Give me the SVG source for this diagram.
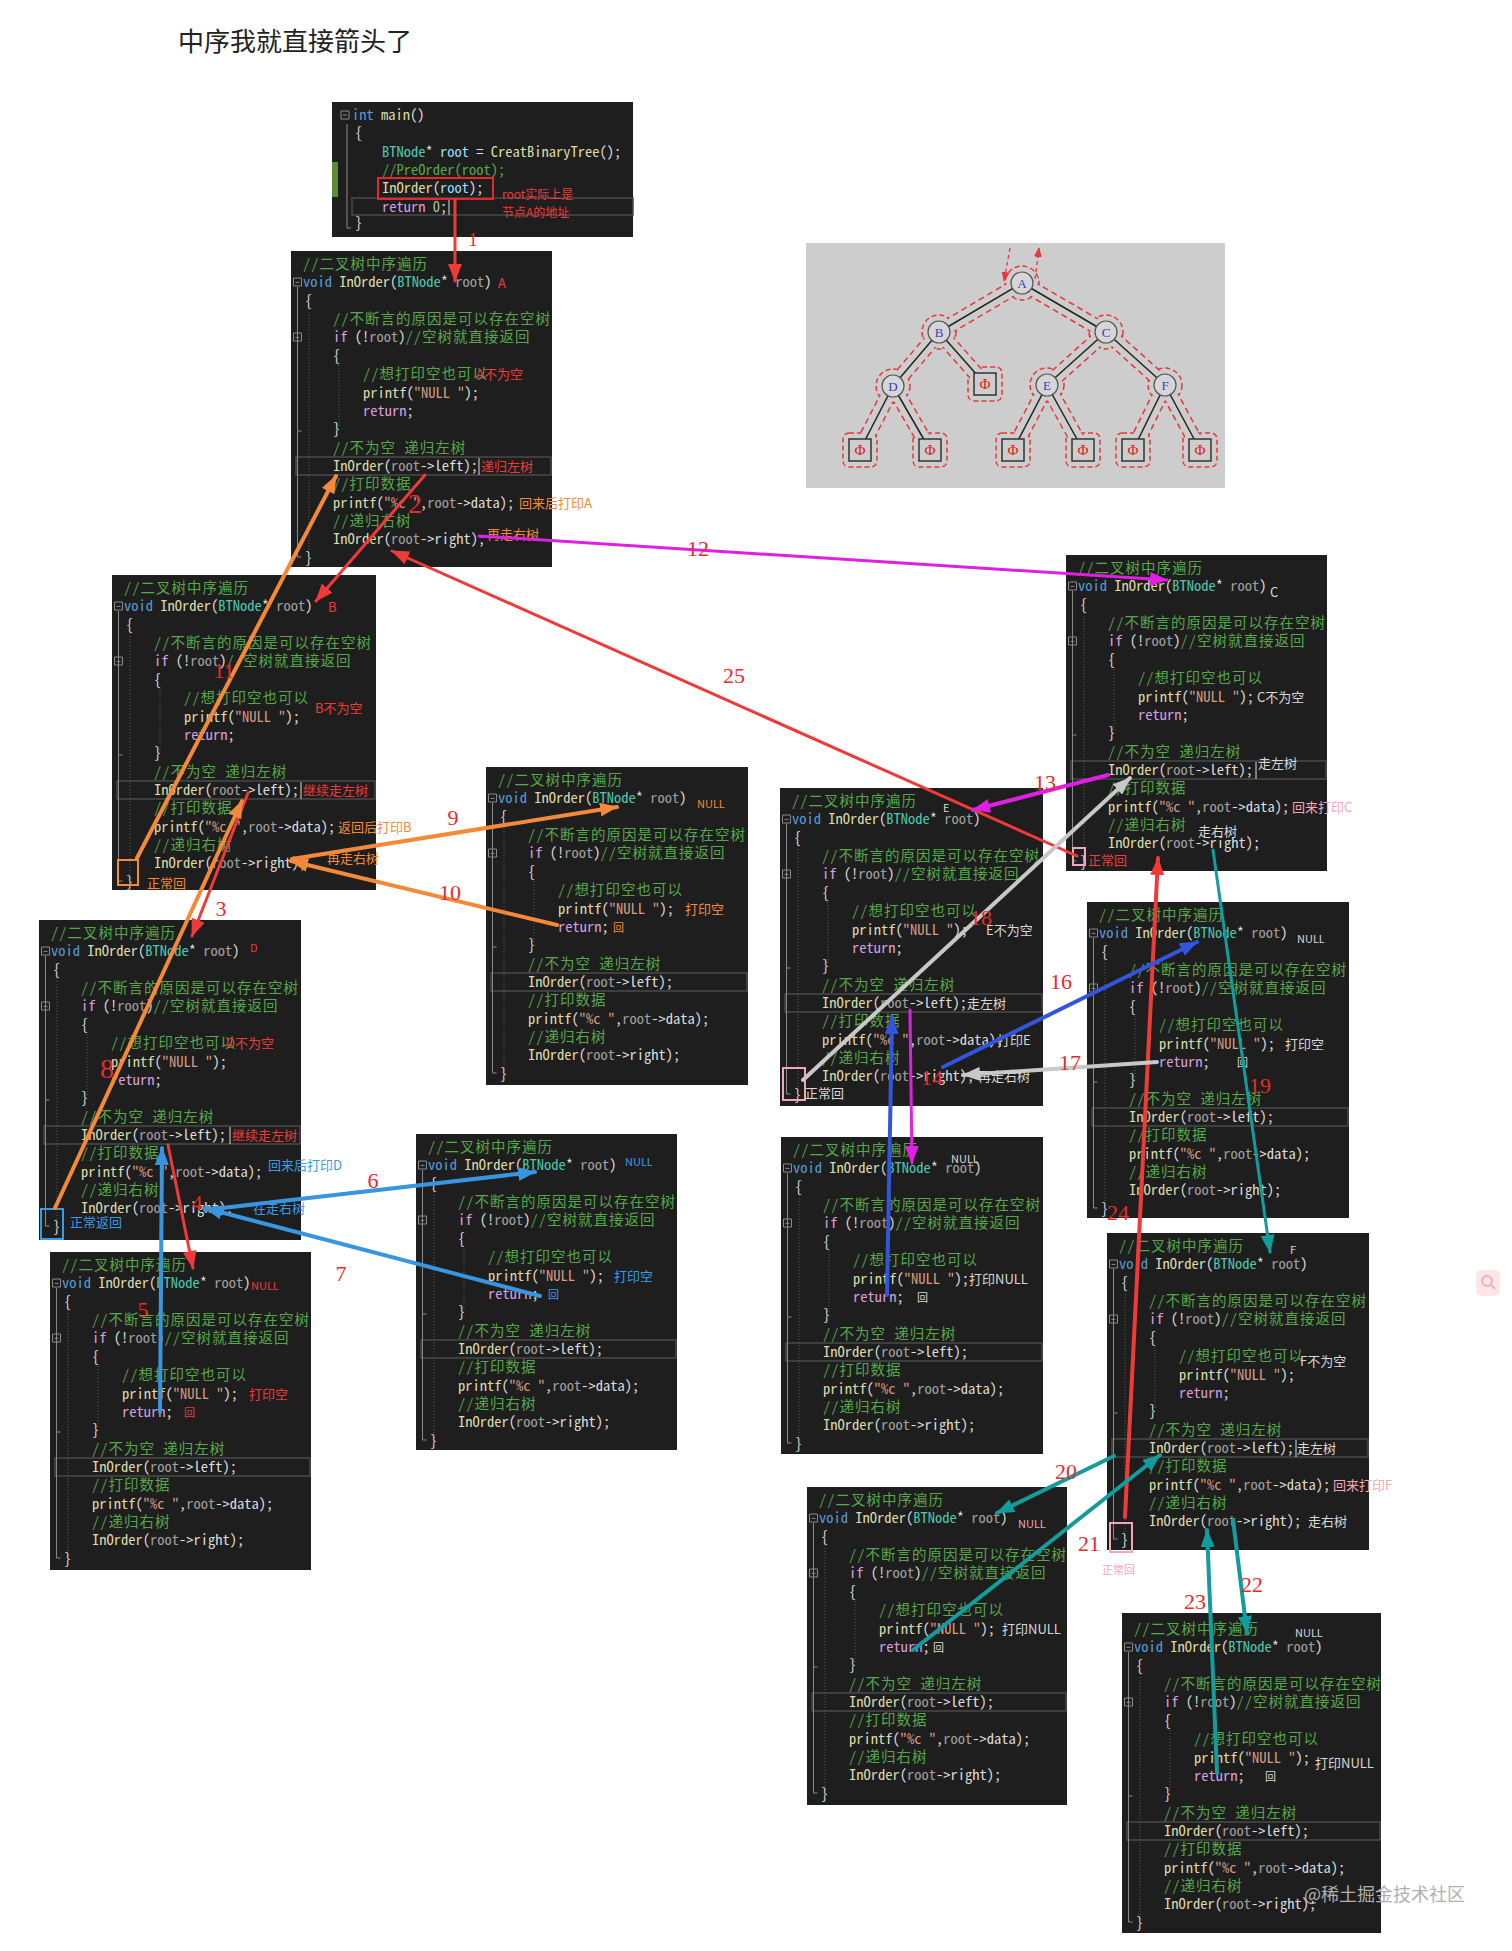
<svg xmlns="http://www.w3.org/2000/svg" width="1512" height="1951" viewBox="0 0 1512 1951">
<style>
.box text{font-family:"Noto Sans Mono CJK SC","Liberation Mono","Noto Sans CJK SC",monospace;font-size:14.5px;fill:#dcdcdc}
.box .c{fill:#57a64a;letter-spacing:1px}
.box .c0{fill:#57a64a}
.box .k{fill:#569cd6}
.box .m{fill:#d8a0df}
.box .f{fill:#dcdcaa}
.box .t{fill:#4ec9b0}
.box .p{fill:#a0a0a0}
.box .s{fill:#d69d85}
.box .v{fill:#9cdcfe}
.box .n{fill:#b5cea8}
.bg{fill:#1e1e1e}
.hl{fill:none;stroke:#4a4a4a;stroke-width:1.5}
.fd{fill:none;stroke:#8a8a8a;stroke-width:1}
.gd{fill:none;stroke:#5c5c5c;stroke-width:1;stroke-dasharray:1 2}
.box text.an{font-family:"Noto Sans CJK SC","Liberation Sans",sans-serif;font-size:13px;letter-spacing:0}
.box text.sm{font-size:11px}
text.num{font-family:"Liberation Serif",serif;font-size:22px;fill:#e52b2b;text-anchor:middle}
.box .rd{fill:#f03a3a}
.box .or{fill:#f5893a}
.box .bl{fill:#3a9ae6}
.box .lt{fill:#d8d8d8}
.box .pk{fill:#f2a6b8}
.title{font-family:"Noto Sans CJK SC",sans-serif;font-size:26px;fill:#222}
.tn{font-family:"Liberation Serif",serif;font-size:13px;fill:#3a3acc;text-anchor:middle}
.phi{font-family:"Liberation Serif",serif;font-size:15px;fill:#e02020;text-anchor:middle}
</style>
<defs>
<marker id="mr" viewBox="0 0 18 14" refX="17" refY="7" markerWidth="18" markerHeight="14" markerUnits="userSpaceOnUse" orient="auto"><path d="M0,0L18,7L0,14z" fill="#f03a3a"/></marker>
<marker id="mo" viewBox="0 0 18 14" refX="17" refY="7" markerWidth="18" markerHeight="14" markerUnits="userSpaceOnUse" orient="auto"><path d="M0,0L18,7L0,14z" fill="#f5893a"/></marker>
<marker id="mb" viewBox="0 0 18 14" refX="17" refY="7" markerWidth="18" markerHeight="14" markerUnits="userSpaceOnUse" orient="auto"><path d="M0,0L18,7L0,14z" fill="#3a95e0"/></marker>
<marker id="md" viewBox="0 0 18 14" refX="17" refY="7" markerWidth="18" markerHeight="14" markerUnits="userSpaceOnUse" orient="auto"><path d="M0,0L18,7L0,14z" fill="#3355dd"/></marker>
<marker id="mm" viewBox="0 0 18 14" refX="17" refY="7" markerWidth="18" markerHeight="14" markerUnits="userSpaceOnUse" orient="auto"><path d="M0,0L18,7L0,14z" fill="#e020e0"/></marker>
<marker id="mg" viewBox="0 0 18 14" refX="17" refY="7" markerWidth="18" markerHeight="14" markerUnits="userSpaceOnUse" orient="auto"><path d="M0,0L18,7L0,14z" fill="#c8c8c8"/></marker>
<marker id="mt" viewBox="0 0 18 14" refX="17" refY="7" markerWidth="18" markerHeight="14" markerUnits="userSpaceOnUse" orient="auto"><path d="M0,0L18,7L0,14z" fill="#129c9c"/></marker>
<marker id="ms" viewBox="0 0 10 8" refX="9" refY="4" markerWidth="10" markerHeight="8" markerUnits="userSpaceOnUse" orient="auto"><path d="M0,0L10,4L0,8z" fill="#e8383d"/></marker>
</defs>
<rect width="1512" height="1951" fill="#ffffff"/>
<text class="title" x="178" y="51">中序我就直接箭头了</text>

<g id="main" class="box" transform="translate(332,102)">
<rect class="bg" width="301" height="135"/>
<rect x="0" y="60" width="6" height="35" fill="#5f8a36"/>
<rect class="hl" x="20" y="96" width="281" height="17"/>
<path class="fd" d="M9,9h8v8h-8zM11,13h4M15,22V126h4"/>
<text x="20" y="18"><tspan class="k">int</tspan> <tspan class="f">main</tspan>()</text>
<text x="23" y="36">{</text>
<text x="50" y="55"><tspan class="t">BTNode</tspan>* <tspan class="v">root</tspan> = <tspan class="f">CreatBinaryTree</tspan>();</text>
<text x="50" y="73" class="c0">//PreOrder(root);</text>
<text x="50" y="91"><tspan class="f">InOrder</tspan>(<tspan class="v">root</tspan>);</text>
<rect x="46" y="76" width="115" height="21" fill="none" stroke="#e8262a" stroke-width="2"/>
<text x="50" y="110"><tspan class="m">return</tspan> <tspan class="n">0</tspan>;</text>
<path d="M117,98V113" stroke="#dddddd" stroke-width="1"/>
<text x="23" y="126">}</text>
<text class="an rd" x="170" y="97" style="font-size:12px">root实际上是</text>
<text class="an rd" x="170" y="115" style="font-size:12px">节点A的地址</text>
</g>

<g id="inorder-A" class="box" transform="translate(291,251)">
<rect class="bg" width="261" height="316"/>
<rect class="hl" x="5" y="206" width="255" height="18"/>
<path class="fd" d="M2.5,27h8v8h-8zM4.5,31.4h4M2.5,82h8v8h-8zM4.5,86.4h4M6.5,36V306h4M6.5,91V180h4"/>
<path class="gd" d="M18,58V300M48,114V176"/>
<text x="12" y="18" class="c">//二叉树中序遍历</text>
<text x="12" y="36.4"><tspan class="k">void</tspan> <tspan class="f">InOrder</tspan>(<tspan class="t">BTNode</tspan>* <tspan class="p">root</tspan>)</text>
<text x="14" y="54.7">{</text>
<text x="42" y="73.1" class="c">//不断言的原因是可以存在空树</text>
<text x="42" y="91.4"><tspan class="m">if</tspan> (!<tspan class="p">root</tspan>)<tspan class="c">//空树就直接返回</tspan></text>
<text x="42" y="109.8">{</text>
<text x="72" y="128.1" class="c">//想打印空也可以</text>
<text x="72" y="146.5"><tspan class="f">printf</tspan>(<tspan class="s">"NULL "</tspan>);</text>
<text x="72" y="164.8"><tspan class="m">return</tspan>;</text>
<text x="42" y="183.2">}</text>
<text x="42" y="201.5" class="c">//不为空 递归左树</text>
<text x="42" y="219.9"><tspan class="f">InOrder</tspan>(<tspan class="p">root</tspan>-&gt;left);</text>
<text x="42" y="238.2" class="c">//打印数据</text>
<text x="42" y="256.6"><tspan class="f">printf</tspan>(<tspan class="s">"%c "</tspan>,<tspan class="p">root</tspan>-&gt;data);</text>
<text x="42" y="274.9" class="c">//递归右树</text>
<text x="42" y="293.3"><tspan class="f">InOrder</tspan>(<tspan class="p">root</tspan>-&gt;right);</text>
<text x="14" y="311.6">}</text>
<text class="an rd" x="207" y="37">A</text>
<text class="an rd" x="185" y="128">A不为空</text>
<path d="M188,207V224" stroke="#dddddd"/>
<text class="an rd" x="190" y="220">递归左树</text>
<text class="an or" x="228" y="257">回来后打印A</text>
<text class="an or" x="196" y="288">再走右树</text>
</g>

<g id="inorder-B" class="box" transform="translate(112,575)">
<rect class="bg" width="264" height="315"/>
<rect class="hl" x="5" y="206" width="258" height="18"/>
<path class="fd" d="M2.5,27h8v8h-8zM4.5,31.4h4M2.5,82h8v8h-8zM4.5,86.4h4M6.5,36V306h4M6.5,91V180h4"/>
<path class="gd" d="M18,58V300M48,114V176"/>
<text x="12" y="18" class="c">//二叉树中序遍历</text>
<text x="12" y="36.4"><tspan class="k">void</tspan> <tspan class="f">InOrder</tspan>(<tspan class="t">BTNode</tspan>* <tspan class="p">root</tspan>)</text>
<text x="14" y="54.7">{</text>
<text x="42" y="73.1" class="c">//不断言的原因是可以存在空树</text>
<text x="42" y="91.4"><tspan class="m">if</tspan> (!<tspan class="p">root</tspan>)<tspan class="c">//空树就直接返回</tspan></text>
<text x="42" y="109.8">{</text>
<text x="72" y="128.1" class="c">//想打印空也可以</text>
<text x="72" y="146.5"><tspan class="f">printf</tspan>(<tspan class="s">"NULL "</tspan>);</text>
<text x="72" y="164.8"><tspan class="m">return</tspan>;</text>
<text x="42" y="183.2">}</text>
<text x="42" y="201.5" class="c">//不为空 递归左树</text>
<text x="42" y="219.9"><tspan class="f">InOrder</tspan>(<tspan class="p">root</tspan>-&gt;left);</text>
<text x="42" y="238.2" class="c">//打印数据</text>
<text x="42" y="256.6"><tspan class="f">printf</tspan>(<tspan class="s">"%c "</tspan>,<tspan class="p">root</tspan>-&gt;data);</text>
<text x="42" y="274.9" class="c">//递归右树</text>
<text x="42" y="293.3"><tspan class="f">InOrder</tspan>(<tspan class="p">root</tspan>-&gt;right);</text>
<text x="14" y="311.6">}</text>
<text class="an rd" x="216" y="37">B</text>
<text class="an rd" x="203" y="138">B不为空</text>
<path d="M189,207V224" stroke="#dddddd"/>
<text class="an rd" x="191" y="220">继续走左树</text>
<text class="an or" x="226" y="257">返回后打印B</text>
<text class="an or" x="215" y="288">再走右树</text>
<rect x="6" y="285" width="20" height="25" fill="none" stroke="#f5893a" stroke-width="2"/>
<text class="an or" x="35" y="313">正常回</text>
</g>

<g id="inorder-D" class="box" transform="translate(39,920)">
<rect class="bg" width="262" height="320"/>
<rect class="hl" x="5" y="206" width="256" height="18"/>
<path class="fd" d="M2.5,27h8v8h-8zM4.5,31.4h4M2.5,82h8v8h-8zM4.5,86.4h4M6.5,36V306h4M6.5,91V180h4"/>
<path class="gd" d="M18,58V300M48,114V176"/>
<text x="12" y="18" class="c">//二叉树中序遍历</text>
<text x="12" y="36.4"><tspan class="k">void</tspan> <tspan class="f">InOrder</tspan>(<tspan class="t">BTNode</tspan>* <tspan class="p">root</tspan>)</text>
<text x="14" y="54.7">{</text>
<text x="42" y="73.1" class="c">//不断言的原因是可以存在空树</text>
<text x="42" y="91.4"><tspan class="m">if</tspan> (!<tspan class="p">root</tspan>)<tspan class="c">//空树就直接返回</tspan></text>
<text x="42" y="109.8">{</text>
<text x="72" y="128.1" class="c">//想打印空也可以</text>
<text x="72" y="146.5"><tspan class="f">printf</tspan>(<tspan class="s">"NULL "</tspan>);</text>
<text x="72" y="164.8"><tspan class="m">return</tspan>;</text>
<text x="42" y="183.2">}</text>
<text x="42" y="201.5" class="c">//不为空 递归左树</text>
<text x="42" y="219.9"><tspan class="f">InOrder</tspan>(<tspan class="p">root</tspan>-&gt;left);</text>
<text x="42" y="238.2" class="c">//打印数据</text>
<text x="42" y="256.6"><tspan class="f">printf</tspan>(<tspan class="s">"%c "</tspan>,<tspan class="p">root</tspan>-&gt;data);</text>
<text x="42" y="274.9" class="c">//递归右树</text>
<text x="42" y="293.3"><tspan class="f">InOrder</tspan>(<tspan class="p">root</tspan>-&gt;right);</text>
<text x="14" y="311.6">}</text>
<text class="an rd sm" x="211" y="32">D</text>
<text class="an rd" x="187" y="128">D不为空</text>
<path d="M191,207V224" stroke="#dddddd"/>
<text class="an rd" x="193" y="220">继续走左树</text>
<text class="an bl" x="229" y="250">回来后打印D</text>
<text class="an bl" x="214" y="293">在走右树</text>
<rect x="2" y="289" width="22" height="30" fill="none" stroke="#3a9ae6" stroke-width="2"/>
<text class="an bl" x="31" y="307">正常返回</text>
</g>

<g id="inorder-null-DL" class="box" transform="translate(50,1252)">
<rect class="bg" width="261" height="318"/>
<rect class="hl" x="5" y="206" width="255" height="18"/>
<path class="fd" d="M2.5,27h8v8h-8zM4.5,31.4h4M2.5,82h8v8h-8zM4.5,86.4h4M6.5,36V306h4M6.5,91V180h4"/>
<path class="gd" d="M18,58V300M48,114V176"/>
<text x="12" y="18" class="c">//二叉树中序遍历</text>
<text x="12" y="36.4"><tspan class="k">void</tspan> <tspan class="f">InOrder</tspan>(<tspan class="t">BTNode</tspan>* <tspan class="p">root</tspan>)</text>
<text x="14" y="54.7">{</text>
<text x="42" y="73.1" class="c">//不断言的原因是可以存在空树</text>
<text x="42" y="91.4"><tspan class="m">if</tspan> (!<tspan class="p">root</tspan>)<tspan class="c">//空树就直接返回</tspan></text>
<text x="42" y="109.8">{</text>
<text x="72" y="128.1" class="c">//想打印空也可以</text>
<text x="72" y="146.5"><tspan class="f">printf</tspan>(<tspan class="s">"NULL "</tspan>);</text>
<text x="72" y="164.8"><tspan class="m">return</tspan>;</text>
<text x="42" y="183.2">}</text>
<text x="42" y="201.5" class="c">//不为空 递归左树</text>
<text x="42" y="219.9"><tspan class="f">InOrder</tspan>(<tspan class="p">root</tspan>-&gt;left);</text>
<text x="42" y="238.2" class="c">//打印数据</text>
<text x="42" y="256.6"><tspan class="f">printf</tspan>(<tspan class="s">"%c "</tspan>,<tspan class="p">root</tspan>-&gt;data);</text>
<text x="42" y="274.9" class="c">//递归右树</text>
<text x="42" y="293.3"><tspan class="f">InOrder</tspan>(<tspan class="p">root</tspan>-&gt;right);</text>
<text x="14" y="311.6">}</text>
<text class="an rd sm" x="201" y="38">NULL</text>
<text class="an rd" x="199" y="147">打印空</text>
<text class="an rd sm" x="134" y="165">回</text>
</g>

<g id="inorder-null-BR" class="box" transform="translate(486,767)">
<rect class="bg" width="262" height="318"/>
<rect class="hl" x="5" y="206" width="256" height="18"/>
<path class="fd" d="M2.5,27h8v8h-8zM4.5,31.4h4M2.5,82h8v8h-8zM4.5,86.4h4M6.5,36V306h4M6.5,91V180h4"/>
<path class="gd" d="M18,58V300M48,114V176"/>
<text x="12" y="18" class="c">//二叉树中序遍历</text>
<text x="12" y="36.4"><tspan class="k">void</tspan> <tspan class="f">InOrder</tspan>(<tspan class="t">BTNode</tspan>* <tspan class="p">root</tspan>)</text>
<text x="14" y="54.7">{</text>
<text x="42" y="73.1" class="c">//不断言的原因是可以存在空树</text>
<text x="42" y="91.4"><tspan class="m">if</tspan> (!<tspan class="p">root</tspan>)<tspan class="c">//空树就直接返回</tspan></text>
<text x="42" y="109.8">{</text>
<text x="72" y="128.1" class="c">//想打印空也可以</text>
<text x="72" y="146.5"><tspan class="f">printf</tspan>(<tspan class="s">"NULL "</tspan>);</text>
<text x="72" y="164.8"><tspan class="m">return</tspan>;</text>
<text x="42" y="183.2">}</text>
<text x="42" y="201.5" class="c">//不为空 递归左树</text>
<text x="42" y="219.9"><tspan class="f">InOrder</tspan>(<tspan class="p">root</tspan>-&gt;left);</text>
<text x="42" y="238.2" class="c">//打印数据</text>
<text x="42" y="256.6"><tspan class="f">printf</tspan>(<tspan class="s">"%c "</tspan>,<tspan class="p">root</tspan>-&gt;data);</text>
<text x="42" y="274.9" class="c">//递归右树</text>
<text x="42" y="293.3"><tspan class="f">InOrder</tspan>(<tspan class="p">root</tspan>-&gt;right);</text>
<text x="14" y="311.6">}</text>
<text class="an or sm" x="211" y="41">NULL</text>
<text class="an or" x="199" y="147">打印空</text>
<text class="an or sm" x="127" y="165">回</text>
</g>

<g id="inorder-null-DR" class="box" transform="translate(416,1134)">
<rect class="bg" width="261" height="316"/>
<rect class="hl" x="5" y="206" width="255" height="18"/>
<path class="fd" d="M2.5,27h8v8h-8zM4.5,31.4h4M2.5,82h8v8h-8zM4.5,86.4h4M6.5,36V306h4M6.5,91V180h4"/>
<path class="gd" d="M18,58V300M48,114V176"/>
<text x="12" y="18" class="c">//二叉树中序遍历</text>
<text x="12" y="36.4"><tspan class="k">void</tspan> <tspan class="f">InOrder</tspan>(<tspan class="t">BTNode</tspan>* <tspan class="p">root</tspan>)</text>
<text x="14" y="54.7">{</text>
<text x="42" y="73.1" class="c">//不断言的原因是可以存在空树</text>
<text x="42" y="91.4"><tspan class="m">if</tspan> (!<tspan class="p">root</tspan>)<tspan class="c">//空树就直接返回</tspan></text>
<text x="42" y="109.8">{</text>
<text x="72" y="128.1" class="c">//想打印空也可以</text>
<text x="72" y="146.5"><tspan class="f">printf</tspan>(<tspan class="s">"NULL "</tspan>);</text>
<text x="72" y="164.8"><tspan class="m">return</tspan>;</text>
<text x="42" y="183.2">}</text>
<text x="42" y="201.5" class="c">//不为空 递归左树</text>
<text x="42" y="219.9"><tspan class="f">InOrder</tspan>(<tspan class="p">root</tspan>-&gt;left);</text>
<text x="42" y="238.2" class="c">//打印数据</text>
<text x="42" y="256.6"><tspan class="f">printf</tspan>(<tspan class="s">"%c "</tspan>,<tspan class="p">root</tspan>-&gt;data);</text>
<text x="42" y="274.9" class="c">//递归右树</text>
<text x="42" y="293.3"><tspan class="f">InOrder</tspan>(<tspan class="p">root</tspan>-&gt;right);</text>
<text x="14" y="311.6">}</text>
<text class="an bl sm" x="209" y="32">NULL</text>
<text class="an bl" x="198" y="147">打印空</text>
<text class="an bl sm" x="132" y="165">回</text>
</g>

<g id="inorder-E" class="box" transform="translate(780,788)">
<rect class="bg" width="263" height="318"/>
<rect class="hl" x="5" y="206" width="257" height="18"/>
<path class="fd" d="M2.5,27h8v8h-8zM4.5,31.4h4M2.5,82h8v8h-8zM4.5,86.4h4M6.5,36V306h4M6.5,91V180h4"/>
<path class="gd" d="M18,58V300M48,114V176"/>
<text x="12" y="18" class="c">//二叉树中序遍历</text>
<text x="12" y="36.4"><tspan class="k">void</tspan> <tspan class="f">InOrder</tspan>(<tspan class="t">BTNode</tspan>* <tspan class="p">root</tspan>)</text>
<text x="14" y="54.7">{</text>
<text x="42" y="73.1" class="c">//不断言的原因是可以存在空树</text>
<text x="42" y="91.4"><tspan class="m">if</tspan> (!<tspan class="p">root</tspan>)<tspan class="c">//空树就直接返回</tspan></text>
<text x="42" y="109.8">{</text>
<text x="72" y="128.1" class="c">//想打印空也可以</text>
<text x="72" y="146.5"><tspan class="f">printf</tspan>(<tspan class="s">"NULL "</tspan>);</text>
<text x="72" y="164.8"><tspan class="m">return</tspan>;</text>
<text x="42" y="183.2">}</text>
<text x="42" y="201.5" class="c">//不为空 递归左树</text>
<text x="42" y="219.9"><tspan class="f">InOrder</tspan>(<tspan class="p">root</tspan>-&gt;left);</text>
<text x="42" y="238.2" class="c">//打印数据</text>
<text x="42" y="256.6"><tspan class="f">printf</tspan>(<tspan class="s">"%c "</tspan>,<tspan class="p">root</tspan>-&gt;data);</text>
<text x="42" y="274.9" class="c">//递归右树</text>
<text x="42" y="293.3"><tspan class="f">InOrder</tspan>(<tspan class="p">root</tspan>-&gt;right);</text>
<text x="14" y="311.6">}</text>
<text class="an lt sm" x="163" y="24">E</text>
<text class="an lt" x="206" y="147">E不为空</text>
<text class="an lt" x="187" y="220">走左树</text>
<text class="an lt" x="217" y="257">打印E</text>
<text class="an lt" x="198" y="293">再走右树</text>
<rect x="3" y="280" width="22" height="32" fill="none" stroke="#f2a6b8" stroke-width="2"/>
<text class="an lt" x="25" y="310">正常回</text>
</g>

<g id="inorder-C" class="box" transform="translate(1066,555)">
<rect class="bg" width="261" height="316"/>
<rect class="hl" x="5" y="206" width="255" height="18"/>
<path class="fd" d="M2.5,27h8v8h-8zM4.5,31.4h4M2.5,82h8v8h-8zM4.5,86.4h4M6.5,36V306h4M6.5,91V180h4"/>
<path class="gd" d="M18,58V300M48,114V176"/>
<text x="12" y="18" class="c">//二叉树中序遍历</text>
<text x="12" y="36.4"><tspan class="k">void</tspan> <tspan class="f">InOrder</tspan>(<tspan class="t">BTNode</tspan>* <tspan class="p">root</tspan>)</text>
<text x="14" y="54.7">{</text>
<text x="42" y="73.1" class="c">//不断言的原因是可以存在空树</text>
<text x="42" y="91.4"><tspan class="m">if</tspan> (!<tspan class="p">root</tspan>)<tspan class="c">//空树就直接返回</tspan></text>
<text x="42" y="109.8">{</text>
<text x="72" y="128.1" class="c">//想打印空也可以</text>
<text x="72" y="146.5"><tspan class="f">printf</tspan>(<tspan class="s">"NULL "</tspan>);</text>
<text x="72" y="164.8"><tspan class="m">return</tspan>;</text>
<text x="42" y="183.2">}</text>
<text x="42" y="201.5" class="c">//不为空 递归左树</text>
<text x="42" y="219.9"><tspan class="f">InOrder</tspan>(<tspan class="p">root</tspan>-&gt;left);</text>
<text x="42" y="238.2" class="c">//打印数据</text>
<text x="42" y="256.6"><tspan class="f">printf</tspan>(<tspan class="s">"%c "</tspan>,<tspan class="p">root</tspan>-&gt;data);</text>
<text x="42" y="274.9" class="c">//递归右树</text>
<text x="42" y="293.3"><tspan class="f">InOrder</tspan>(<tspan class="p">root</tspan>-&gt;right);</text>
<text x="14" y="311.6">}</text>
<text class="an lt" x="204" y="42">C</text>
<text class="an lt" x="191" y="147">C不为空</text>
<path d="M190,207V224" stroke="#dddddd"/>
<text class="an lt" x="192" y="213">走左树</text>
<text class="an pk" x="226" y="257">回来打印C</text>
<text class="an lt" x="132" y="281">走右树</text>
<rect x="7" y="293" width="12" height="17" fill="none" stroke="#f2a6b8" stroke-width="2"/>
<text class="an rd" x="22" y="310">正常回</text>
</g>

<g id="inorder-null-EL" class="box" transform="translate(781,1137)">
<rect class="bg" width="262" height="317"/>
<rect class="hl" x="5" y="206" width="256" height="18"/>
<path class="fd" d="M2.5,27h8v8h-8zM4.5,31.4h4M2.5,82h8v8h-8zM4.5,86.4h4M6.5,36V306h4M6.5,91V180h4"/>
<path class="gd" d="M18,58V300M48,114V176"/>
<text x="12" y="18" class="c">//二叉树中序遍历</text>
<text x="12" y="36.4"><tspan class="k">void</tspan> <tspan class="f">InOrder</tspan>(<tspan class="t">BTNode</tspan>* <tspan class="p">root</tspan>)</text>
<text x="14" y="54.7">{</text>
<text x="42" y="73.1" class="c">//不断言的原因是可以存在空树</text>
<text x="42" y="91.4"><tspan class="m">if</tspan> (!<tspan class="p">root</tspan>)<tspan class="c">//空树就直接返回</tspan></text>
<text x="42" y="109.8">{</text>
<text x="72" y="128.1" class="c">//想打印空也可以</text>
<text x="72" y="146.5"><tspan class="f">printf</tspan>(<tspan class="s">"NULL "</tspan>);</text>
<text x="72" y="164.8"><tspan class="m">return</tspan>;</text>
<text x="42" y="183.2">}</text>
<text x="42" y="201.5" class="c">//不为空 递归左树</text>
<text x="42" y="219.9"><tspan class="f">InOrder</tspan>(<tspan class="p">root</tspan>-&gt;left);</text>
<text x="42" y="238.2" class="c">//打印数据</text>
<text x="42" y="256.6"><tspan class="f">printf</tspan>(<tspan class="s">"%c "</tspan>,<tspan class="p">root</tspan>-&gt;data);</text>
<text x="42" y="274.9" class="c">//递归右树</text>
<text x="42" y="293.3"><tspan class="f">InOrder</tspan>(<tspan class="p">root</tspan>-&gt;right);</text>
<text x="14" y="311.6">}</text>
<text class="an lt sm" x="170" y="26">NULL</text>
<text class="an lt" x="188" y="147">打印NULL</text>
<text class="an lt sm" x="136" y="165">回</text>
</g>

<g id="inorder-null-ER" class="box" transform="translate(1087,902)">
<rect class="bg" width="262" height="316"/>
<rect class="hl" x="5" y="206" width="256" height="18"/>
<path class="fd" d="M2.5,27h8v8h-8zM4.5,31.4h4M2.5,82h8v8h-8zM4.5,86.4h4M6.5,36V306h4M6.5,91V180h4"/>
<path class="gd" d="M18,58V300M48,114V176"/>
<text x="12" y="18" class="c">//二叉树中序遍历</text>
<text x="12" y="36.4"><tspan class="k">void</tspan> <tspan class="f">InOrder</tspan>(<tspan class="t">BTNode</tspan>* <tspan class="p">root</tspan>)</text>
<text x="14" y="54.7">{</text>
<text x="42" y="73.1" class="c">//不断言的原因是可以存在空树</text>
<text x="42" y="91.4"><tspan class="m">if</tspan> (!<tspan class="p">root</tspan>)<tspan class="c">//空树就直接返回</tspan></text>
<text x="42" y="109.8">{</text>
<text x="72" y="128.1" class="c">//想打印空也可以</text>
<text x="72" y="146.5"><tspan class="f">printf</tspan>(<tspan class="s">"NULL "</tspan>);</text>
<text x="72" y="164.8"><tspan class="m">return</tspan>;</text>
<text x="42" y="183.2">}</text>
<text x="42" y="201.5" class="c">//不为空 递归左树</text>
<text x="42" y="219.9"><tspan class="f">InOrder</tspan>(<tspan class="p">root</tspan>-&gt;left);</text>
<text x="42" y="238.2" class="c">//打印数据</text>
<text x="42" y="256.6"><tspan class="f">printf</tspan>(<tspan class="s">"%c "</tspan>,<tspan class="p">root</tspan>-&gt;data);</text>
<text x="42" y="274.9" class="c">//递归右树</text>
<text x="42" y="293.3"><tspan class="f">InOrder</tspan>(<tspan class="p">root</tspan>-&gt;right);</text>
<text x="14" y="311.6">}</text>
<text class="an lt sm" x="210" y="41">NULL</text>
<text class="an lt" x="198" y="147">打印空</text>
<text class="an lt sm" x="150" y="165">回</text>
</g>

<g id="inorder-F" class="box" transform="translate(1107,1233)">
<rect class="bg" width="262" height="317"/>
<rect class="hl" x="5" y="206" width="256" height="18"/>
<path class="fd" d="M2.5,27h8v8h-8zM4.5,31.4h4M2.5,82h8v8h-8zM4.5,86.4h4M6.5,36V306h4M6.5,91V180h4"/>
<path class="gd" d="M18,58V300M48,114V176"/>
<text x="12" y="18" class="c">//二叉树中序遍历</text>
<text x="12" y="36.4"><tspan class="k">void</tspan> <tspan class="f">InOrder</tspan>(<tspan class="t">BTNode</tspan>* <tspan class="p">root</tspan>)</text>
<text x="14" y="54.7">{</text>
<text x="42" y="73.1" class="c">//不断言的原因是可以存在空树</text>
<text x="42" y="91.4"><tspan class="m">if</tspan> (!<tspan class="p">root</tspan>)<tspan class="c">//空树就直接返回</tspan></text>
<text x="42" y="109.8">{</text>
<text x="72" y="128.1" class="c">//想打印空也可以</text>
<text x="72" y="146.5"><tspan class="f">printf</tspan>(<tspan class="s">"NULL "</tspan>);</text>
<text x="72" y="164.8"><tspan class="m">return</tspan>;</text>
<text x="42" y="183.2">}</text>
<text x="42" y="201.5" class="c">//不为空 递归左树</text>
<text x="42" y="219.9"><tspan class="f">InOrder</tspan>(<tspan class="p">root</tspan>-&gt;left);</text>
<text x="42" y="238.2" class="c">//打印数据</text>
<text x="42" y="256.6"><tspan class="f">printf</tspan>(<tspan class="s">"%c "</tspan>,<tspan class="p">root</tspan>-&gt;data);</text>
<text x="42" y="274.9" class="c">//递归右树</text>
<text x="42" y="293.3"><tspan class="f">InOrder</tspan>(<tspan class="p">root</tspan>-&gt;right);</text>
<text x="14" y="311.6">}</text>
<text class="an lt sm" x="183" y="21">F</text>
<text class="an lt" x="193" y="133">F不为空</text>
<path d="M189,207V224" stroke="#dddddd"/>
<text class="an lt" x="190" y="220">走左树</text>
<text class="an pk" x="226" y="257">回来打印F</text>
<text class="an lt" x="201" y="293">走右树</text>
<rect x="3" y="290" width="22" height="29" fill="none" stroke="#f2a6b8" stroke-width="2"/>
<text class="an pk sm" x="-5" y="341">正常回</text>
</g>

<g id="inorder-null-FL" class="box" transform="translate(807,1487)">
<rect class="bg" width="260" height="318"/>
<rect class="hl" x="5" y="206" width="254" height="18"/>
<path class="fd" d="M2.5,27h8v8h-8zM4.5,31.4h4M2.5,82h8v8h-8zM4.5,86.4h4M6.5,36V306h4M6.5,91V180h4"/>
<path class="gd" d="M18,58V300M48,114V176"/>
<text x="12" y="18" class="c">//二叉树中序遍历</text>
<text x="12" y="36.4"><tspan class="k">void</tspan> <tspan class="f">InOrder</tspan>(<tspan class="t">BTNode</tspan>* <tspan class="p">root</tspan>)</text>
<text x="14" y="54.7">{</text>
<text x="42" y="73.1" class="c">//不断言的原因是可以存在空树</text>
<text x="42" y="91.4"><tspan class="m">if</tspan> (!<tspan class="p">root</tspan>)<tspan class="c">//空树就直接返回</tspan></text>
<text x="42" y="109.8">{</text>
<text x="72" y="128.1" class="c">//想打印空也可以</text>
<text x="72" y="146.5"><tspan class="f">printf</tspan>(<tspan class="s">"NULL "</tspan>);</text>
<text x="72" y="164.8"><tspan class="m">return</tspan>;</text>
<text x="42" y="183.2">}</text>
<text x="42" y="201.5" class="c">//不为空 递归左树</text>
<text x="42" y="219.9"><tspan class="f">InOrder</tspan>(<tspan class="p">root</tspan>-&gt;left);</text>
<text x="42" y="238.2" class="c">//打印数据</text>
<text x="42" y="256.6"><tspan class="f">printf</tspan>(<tspan class="s">"%c "</tspan>,<tspan class="p">root</tspan>-&gt;data);</text>
<text x="42" y="274.9" class="c">//递归右树</text>
<text x="42" y="293.3"><tspan class="f">InOrder</tspan>(<tspan class="p">root</tspan>-&gt;right);</text>
<text x="14" y="311.6">}</text>
<text class="an pk sm" x="211" y="41">NULL</text>
<text class="an lt" x="195" y="147">打印NULL</text>
<text class="an lt sm" x="126" y="165">回</text>
</g>

<g id="inorder-null-FR" class="box" transform="translate(1122,1613)">
<rect class="bg" width="259" height="320"/>
<rect class="hl" x="5" y="209" width="253" height="18"/>
<path class="fd" d="M2.5,30h8v8h-8zM4.5,34.4h4M2.5,85h8v8h-8zM4.5,89.4h4M6.5,39V309h4M6.5,94V183h4"/>
<path class="gd" d="M18,61V303M48,117V179"/>
<text x="12" y="21" class="c">//二叉树中序遍历</text>
<text x="12" y="39.4"><tspan class="k">void</tspan> <tspan class="f">InOrder</tspan>(<tspan class="t">BTNode</tspan>* <tspan class="p">root</tspan>)</text>
<text x="14" y="57.7">{</text>
<text x="42" y="76.1" class="c">//不断言的原因是可以存在空树</text>
<text x="42" y="94.4"><tspan class="m">if</tspan> (!<tspan class="p">root</tspan>)<tspan class="c">//空树就直接返回</tspan></text>
<text x="42" y="112.8">{</text>
<text x="72" y="131.1" class="c">//想打印空也可以</text>
<text x="72" y="149.5"><tspan class="f">printf</tspan>(<tspan class="s">"NULL "</tspan>);</text>
<text x="72" y="167.8"><tspan class="m">return</tspan>;</text>
<text x="42" y="186.2">}</text>
<text x="42" y="204.5" class="c">//不为空 递归左树</text>
<text x="42" y="222.9"><tspan class="f">InOrder</tspan>(<tspan class="p">root</tspan>-&gt;left);</text>
<text x="42" y="241.2" class="c">//打印数据</text>
<text x="42" y="259.6"><tspan class="f">printf</tspan>(<tspan class="s">"%c "</tspan>,<tspan class="p">root</tspan>-&gt;data);</text>
<text x="42" y="277.9" class="c">//递归右树</text>
<text x="42" y="296.3"><tspan class="f">InOrder</tspan>(<tspan class="p">root</tspan>-&gt;right);</text>
<text x="14" y="314.6">}</text>
<text class="an lt sm" x="173" y="24">NULL</text>
<text class="an lt" x="193" y="155">打印NULL</text>
<text class="an lt sm" x="143" y="168">回</text>
</g>

<g id="tree">
<rect x="806" y="243" width="419" height="245" fill="#cdcdcd"/>
<path d="M1022,283L939,332M1022,283L1106,332M939,332L893,386M939,332L985,384M1106,332L1047,385M1106,332L1165,385M893,386L860,450M893,386L930,450M1047,385L1013,450M1047,385L1083,450M1165,385L1133,450M1165,385L1200,450" fill="none" stroke="#e8383d" stroke-width="16" stroke-dasharray="6 4"/>
<g fill="none" stroke="#e8383d" stroke-width="1.5" stroke-dasharray="5 3">
<circle cx="1022" cy="283" r="17"/><circle cx="939" cy="332" r="17"/><circle cx="1106" cy="332" r="17"/><circle cx="893" cy="386" r="17"/><circle cx="1047" cy="385" r="17"/><circle cx="1165" cy="385" r="17"/>
<rect x="968" y="367" width="34" height="34" rx="6"/><rect x="843" y="433" width="34" height="34" rx="6"/><rect x="913" y="433" width="34" height="34" rx="6"/><rect x="996" y="433" width="34" height="34" rx="6"/><rect x="1066" y="433" width="34" height="34" rx="6"/><rect x="1116" y="433" width="34" height="34" rx="6"/><rect x="1183" y="433" width="34" height="34" rx="6"/>
</g>
<path d="M1022,283L939,332M1022,283L1106,332M939,332L893,386M939,332L985,384M1106,332L1047,385M1106,332L1165,385M893,386L860,450M893,386L930,450M1047,385L1013,450M1047,385L1083,450M1165,385L1133,450M1165,385L1200,450" fill="none" stroke="#cdcdcd" stroke-width="13"/>
<g fill="#cdcdcd">
<circle cx="1022" cy="283" r="15.5"/><circle cx="939" cy="332" r="15.5"/><circle cx="1106" cy="332" r="15.5"/><circle cx="893" cy="386" r="15.5"/><circle cx="1047" cy="385" r="15.5"/><circle cx="1165" cy="385" r="15.5"/>
<rect x="970" y="369" width="30" height="30"/><rect x="845" y="435" width="30" height="30"/><rect x="915" y="435" width="30" height="30"/><rect x="998" y="435" width="30" height="30"/><rect x="1068" y="435" width="30" height="30"/><rect x="1118" y="435" width="30" height="30"/><rect x="1185" y="435" width="30" height="30"/>
</g>
<path d="M1022,283L939,332M1022,283L1106,332M939,332L893,386M939,332L985,384M1106,332L1047,385M1106,332L1165,385M893,386L860,450M893,386L930,450M1047,385L1013,450M1047,385L1083,450M1165,385L1133,450M1165,385L1200,450" fill="none" stroke="#222" stroke-width="1.5"/>
<g fill="#d6d6d6" stroke="#555" stroke-width="1.2">
<circle cx="1022" cy="283" r="11"/><circle cx="939" cy="332" r="11"/><circle cx="1106" cy="332" r="11"/><circle cx="893" cy="386" r="11"/><circle cx="1047" cy="385" r="11"/><circle cx="1165" cy="385" r="11"/>
</g>
<g fill="#cdcdcd" stroke="#333" stroke-width="1.5">
<rect x="974" y="373" width="22" height="22"/><rect x="849" y="439" width="22" height="22"/><rect x="919" y="439" width="22" height="22"/><rect x="1002" y="439" width="22" height="22"/><rect x="1072" y="439" width="22" height="22"/><rect x="1122" y="439" width="22" height="22"/><rect x="1189" y="439" width="22" height="22"/>
</g>
<text class="tn" x="1022" y="288">A</text><text class="tn" x="939" y="337">B</text><text class="tn" x="1106" y="337">C</text><text class="tn" x="893" y="391">D</text><text class="tn" x="1047" y="390">E</text><text class="tn" x="1165" y="390">F</text>
<text class="phi" x="985" y="389">Φ</text><text class="phi" x="860" y="455">Φ</text><text class="phi" x="930" y="455">Φ</text><text class="phi" x="1013" y="455">Φ</text><text class="phi" x="1083" y="455">Φ</text><text class="phi" x="1133" y="455">Φ</text><text class="phi" x="1200" y="455">Φ</text>
<path d="M1010,248L1004,281" fill="none" stroke="#e8383d" stroke-width="1.3" stroke-dasharray="4 3" marker-end="url(#ms)"/>
<path d="M1035,279L1039,248" fill="none" stroke="#e8383d" stroke-width="1.3" stroke-dasharray="4 3" marker-end="url(#ms)"/>
</g>

<g id="connectors" fill="none" stroke-linecap="round">
<path d="M455,200L455,281" stroke="#f03a3a" stroke-width="3" marker-end="url(#mr)"/>
<path d="M425,475L316,601" stroke="#f03a3a" stroke-width="3" marker-end="url(#mr)"/>
<path d="M248,793L192,936" stroke="#f03a3a" stroke-width="3" marker-end="url(#mr)"/>
<path d="M168,1145L193,1268" stroke="#f03a3a" stroke-width="3" marker-end="url(#mr)"/>
<path d="M1125,1517L1158,858" stroke="#f03a3a" stroke-width="4" marker-end="url(#mr)"/>
<path d="M1077,856L392,551" stroke="#f03a3a" stroke-width="3" marker-end="url(#mr)"/>
<path d="M137,858L336,476" stroke="#f5893a" stroke-width="4" marker-end="url(#mo)"/>
<path d="M55,1208L242,801" stroke="#f5893a" stroke-width="4" marker-end="url(#mo)"/>
<path d="M292,859L617,807" stroke="#f5893a" stroke-width="4" marker-end="url(#mo)"/>
<path d="M557,925L291,861" stroke="#f5893a" stroke-width="4" marker-end="url(#mo)"/>
<path d="M160,1412L162,1148" stroke="#3a95e0" stroke-width="4" marker-end="url(#mb)"/>
<path d="M205,1210L535,1172" stroke="#3a95e0" stroke-width="4" marker-end="url(#mb)"/>
<path d="M540,1296L205,1208" stroke="#3a95e0" stroke-width="4" marker-end="url(#mb)"/>
<path d="M887,1295L892,1017" stroke="#3355dd" stroke-width="4" marker-end="url(#md)"/>
<path d="M943,1067L1197,942" stroke="#3355dd" stroke-width="4" marker-end="url(#md)"/>
<path d="M479,536L1167,580" stroke="#e020e0" stroke-width="3" marker-end="url(#mm)"/>
<path d="M1108,775L973,810" stroke="#e020e0" stroke-width="4" marker-end="url(#mm)"/>
<path d="M910,1010L912,1163" stroke="#e020e0" stroke-width="3" marker-end="url(#mm)"/>
<path d="M803,1080L1130,778" stroke="#c8c8c8" stroke-width="4" marker-end="url(#mg)"/>
<path d="M1157,1062L963,1075" stroke="#c8c8c8" stroke-width="4" marker-end="url(#mg)"/>
<path d="M1213,850L1270,1252" stroke="#129c9c" stroke-width="3" marker-end="url(#mt)"/>
<path d="M1114,1456L997,1513" stroke="#129c9c" stroke-width="4" marker-end="url(#mt)"/>
<path d="M913,1650L1160,1455" stroke="#129c9c" stroke-width="4" marker-end="url(#mt)"/>
<path d="M1233,1520L1247,1633" stroke="#129c9c" stroke-width="4" marker-end="url(#mt)"/>
<path d="M1217,1773L1207,1530" stroke="#129c9c" stroke-width="4" marker-end="url(#mt)"/>
</g>

<g id="step-labels">
<text class="num" x="473" y="246" style="font-size:18px">1</text>
<text class="num" x="415" y="513" style="font-size:28px">2</text>
<text class="num" x="221" y="916">3</text>
<text class="num" x="197" y="1210">4</text>
<text class="num" x="143" y="1317">5</text>
<text class="num" x="373" y="1188">6</text>
<text class="num" x="341" y="1281">7</text>
<text class="num" x="107" y="1078" style="font-size:28px">8</text>
<text class="num" x="453" y="825">9</text>
<text class="num" x="450" y="900">10</text>
<text class="num" x="224" y="678">11</text>
<text class="num" x="698" y="556">12</text>
<text class="num" x="1045" y="790">13</text>
<text class="num" x="932" y="1085">14</text>
<text class="num" x="1061" y="989">16</text>
<text class="num" x="1070" y="1070">17</text>
<text class="num" x="981" y="925">18</text>
<text class="num" x="1260" y="1093">19</text>
<text class="num" x="1066" y="1479">20</text>
<text class="num" x="1089" y="1551">21</text>
<text class="num" x="1252" y="1592">22</text>
<text class="num" x="1195" y="1609">23</text>
<text class="num" x="1118" y="1220">24</text>
<text class="num" x="734" y="683">25</text>
</g>

<g id="corner-icon">
<rect x="1476" y="1270" width="24" height="26" rx="5" fill="#fde6e8"/>
<circle cx="1487" cy="1281" r="5" fill="none" stroke="#f3a0aa" stroke-width="1.5"/>
<path d="M1491,1285L1495,1289" stroke="#f3a0aa" stroke-width="1.5"/>
</g>
<text x="1304" y="1901" style="font-family:'Noto Sans CJK SC',sans-serif;font-size:18px;fill:#b0b0b0">@稀土掘金技术社区</text>
</svg>
